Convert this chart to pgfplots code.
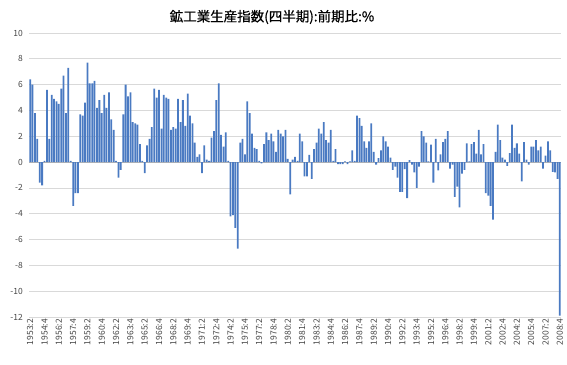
\documentclass[border=0pt]{standalone}
\usepackage{fontspec}
\setmainfont{Noto Sans CJK JP}
\usepackage{pgfplots}
\pgfplotsset{compat=1.18}
\usepackage{pgfplotstable}
\definecolor{barblue}{RGB}{74,122,194}
\definecolor{gridgray}{RGB}{217,217,217}
\definecolor{zerogray}{RGB}{180,180,180}
\definecolor{labelgray}{RGB}{70,70,70}
\pgfplotstableread{
x y
0 6.4
1 6.0
2 3.8
3 1.8
4 -1.6
5 -1.8
6 0.1
7 5.6
8 1.8
9 5.2
10 4.9
11 4.7
12 4.5
13 5.7
14 6.7
15 3.8
16 7.3
17 0.1
18 -3.4
19 -2.4
20 -2.4
21 3.7
22 3.6
23 4.6
24 7.7
25 6.1
26 6.1
27 6.3
28 4.2
29 4.8
30 3.8
31 5.2
32 4.2
33 5.4
34 3.3
35 2.5
36 0.1
37 -1.2
38 -0.6
39 3.7
40 6.0
41 5.1
42 5.4
43 3.1
44 3.0
45 2.9
46 1.4
47 0.1
48 -0.85
49 1.3
50 1.8
51 2.7
52 5.7
53 5.0
54 5.6
55 2.6
56 5.2
57 5.0
58 4.9
59 2.5
60 2.7
61 2.6
62 4.9
63 3.1
64 4.8
65 2.8
66 5.3
67 3.6
68 3.0
69 1.5
70 0.4
71 0.6
72 -0.85
73 1.3
74 0.2
75 0.1
76 1.9
77 2.4
78 4.8
79 6.1
80 2.1
81 1.2
82 2.3
83 0.1
84 -4.2
85 -4.1
86 -5.1
87 -6.7
88 1.5
89 1.8
90 0.6
91 4.7
92 3.8
93 2.2
94 1.1
95 1.0
96 0.1
97 -0.1
98 1.4
99 2.3
100 1.7
101 2.2
102 1.6
103 0.8
104 2.5
105 2.2
106 2.0
107 2.5
108 0.25
109 -2.5
110 0.2
111 0.4
112 0.1
113 2.2
114 1.6
115 -1.1
116 -1.1
117 0.55
118 -1.3
119 1.0
120 1.5
121 2.6
122 2.2
123 3.1
124 1.7
125 1.5
126 2.5
127 0.1
128 1.0
129 -0.15
130 -0.15
131 -0.15
132 0.05
133 -0.15
134 0.05
135 0.9
136 0.1
137 3.6
138 3.4
139 2.8
140 1.6
141 1.1
142 1.6
143 3.0
144 0.8
145 -0.2
146 0.3
147 0.9
148 2.0
149 1.6
150 1.2
151 0.35
152 -0.6
153 -0.35
154 -1.2
155 -2.3
156 -2.3
157 -0.55
158 -2.8
159 0.15
160 -0.2
161 -0.8
162 -2.0
163 -0.35
164 2.4
165 2.0
166 1.5
167 0.05
168 1.35
169 -1.6
170 1.8
171 -0.65
172 0.6
173 1.55
174 1.8
175 2.4
176 -0.5
177 -0.2
178 -2.7
179 -1.9
180 -3.5
181 -0.9
182 -0.6
183 1.45
184 0.05
185 1.4
186 1.55
187 0.65
188 2.5
189 0.6
190 1.4
191 -2.4
192 -2.6
193 -3.4
194 -4.45
195 0.8
196 2.9
197 1.7
198 0.35
199 0.2
200 -0.3
201 0.7
202 2.9
203 1.1
204 1.45
205 0.65
206 -1.5
207 1.55
208 0.2
209 -0.2
210 1.2
211 1.2
212 1.7
213 0.9
214 1.2
215 -0.5
216 0.5
217 1.6
218 0.9
219 -0.75
220 -0.8
221 -1.3
222 -11.9
}\datatable
\begin{document}
\begin{tikzpicture}
\useasboundingbox (-29pt,-47pt) rectangle (538pt,317pt);
\begin{axis}[
  at={(0,0)}, anchor=south west,
  width=532pt, height=284pt, scale only axis,
  xmin=-0.5, xmax=222.5, ymin=-12, ymax=10,
  ytick={-12,-10,...,10},
  xtick={0,6,...,222},
  xticklabels={1953:2,1954:4,1956:2,1957:4,1959:2,1960:4,1962:2,1963:4,1965:2,1966:4,1968:2,1969:4,1971:2,1972:4,1974:2,1975:4,1977:2,1978:4,1980:2,1981:4,1983:2,1984:4,1986:2,1987:4,1989:2,1990:4,1992:2,1993:4,1995:2,1996:4,1998:2,1999:4,2001:2,2002:4,2004:2,2005:4,2007:2,2008:4},
  axis line style={draw=none},
  ymajorgrids, grid style={gridgray, line width=0.7pt},
  major tick length=0pt,
  tick label style={font=\fontsize{8.5}{10}\selectfont, text=labelgray},
  xticklabel style={rotate=90, anchor=east, inner sep=2pt},
  yticklabel style={anchor=east, inner sep=0pt, xshift=-6pt},
  /pgf/number format/assume math mode=true,
  extra y ticks={0}, extra y tick labels={},
  extra y tick style={grid style={zerogray, line width=0.8pt}},
  ybar, bar width=0.74,
  clip=true,
]
\addplot[fill=barblue, draw=none] table {\datatable};
\end{axis}
\node at (243pt,300pt) {\fontsize{13.5}{15}\selectfont\addfontfeatures{FakeBold=0.6} 鉱工業生産指数(四半期):前期比:\%};
\end{tikzpicture}
\end{document}
